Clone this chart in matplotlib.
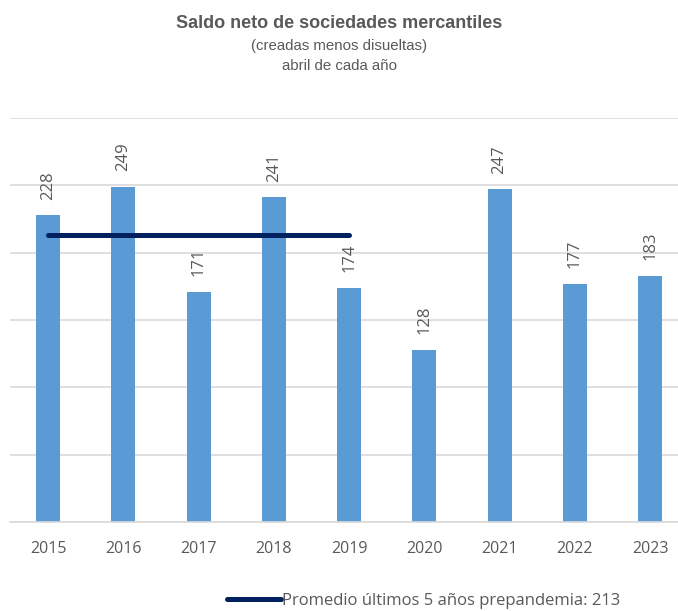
import matplotlib.pyplot as plt
from matplotlib.lines import Line2D

years = ['2015', '2016', '2017', '2018', '2019', '2020', '2021', '2022', '2023']
saldo = [228, 249, 171, 241, 174, 128, 247, 177, 183]
promedio = 213
promedio_years = ['2015', '2016', '2017', '2018', '2019']

bar_color = '#5B9BD5'
line_color = '#002060'
text_color = '#595959'

fig = plt.figure(figsize=(6.78, 6.11), dpi=100)
ax = fig.add_axes([10 / 678, 89 / 611, 668 / 678, 404 / 611])

x = list(range(len(years)))
ax.bar(x, saldo, width=0.32, color=bar_color, zorder=2)

# average line over the pre-pandemic years
px = [years.index(y) for y in promedio_years]
ax.plot([px[0], px[-1]], [promedio, promedio], color=line_color, lw=3.6,
        solid_capstyle='round', zorder=3)

for xi, v in zip(x, saldo):
    ax.annotate(str(v), (xi, v), xytext=(0, 11), textcoords='offset points',
                rotation=90, ha='center', va='bottom', fontsize=12,
                color=text_color, family='Open Sans')

ax.set_xlim(-0.505, 8.37)
ax.set_ylim(0, 300)
ax.set_yticks(range(0, 301, 50))
ax.yaxis.grid(True, color='#D9D9D9', lw=1.2, zorder=0)
ax.set_yticklabels([])
ax.tick_params(axis='y', length=0)
ax.tick_params(axis='x', length=0, pad=14, labelsize=11.5, labelcolor=text_color)
ax.set_xticks(x)
ax.set_xticklabels(years, family='Open Sans')
for s in ['top', 'right', 'left']:
    ax.spines[s].set_visible(False)
ax.spines['bottom'].set_color('#D9D9D9')
ax.spines['bottom'].set_linewidth(1.2)

fig.text(0.5, 1 - 23 / 611, 'Saldo neto de sociedades mercantiles', ha='center',
         va='center', fontsize=13, fontweight='bold', color=text_color,
         family='Liberation Sans')
fig.text(0.5, 1 - 46 / 611, '(creadas menos disueltas)', ha='center',
         va='center', fontsize=10.8, color=text_color, family='Liberation Sans')
fig.text(0.5, 1 - 66 / 611, 'abril de cada año', ha='center',
         va='center', fontsize=10.8, color=text_color, family='Liberation Sans')

leg = fig.legend(handles=[Line2D([0], [0], color=line_color, lw=3.6, solid_capstyle='round')],
                 labels=['Promedio últimos 5 años prepandemia: %d' % promedio],
                 loc='center', bbox_to_anchor=(424 / 678, 10 / 611), frameon=False,
                 handlelength=3.2, handletextpad=0.1,
                 prop={'family': 'Open Sans', 'size': 12})
for t in leg.get_texts():
    t.set_color(text_color)

fig.savefig('out.png', dpi=100, facecolor='white')
